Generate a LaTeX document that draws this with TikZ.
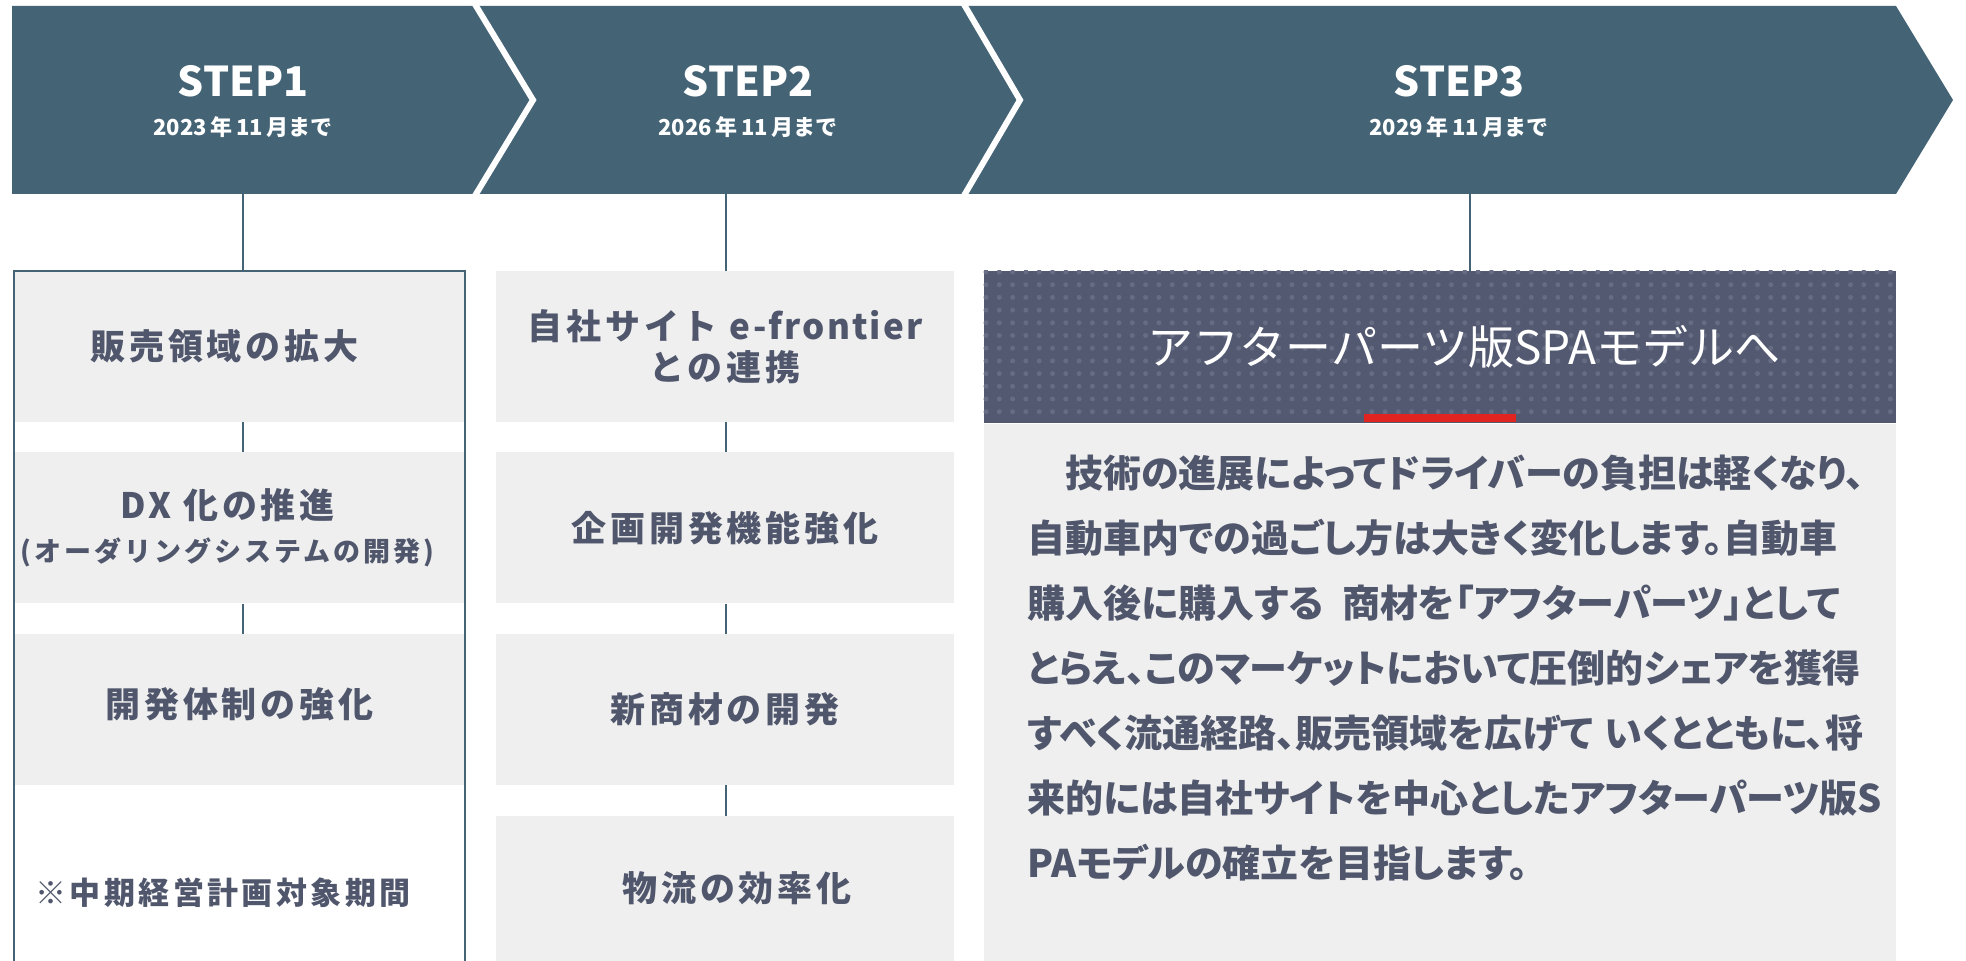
\documentclass[tikz,border=0pt]{standalone}
\usepackage{fontspec}
\newfontfamily\jp{Noto Sans CJK JP}
\newfontfamily\jpp[RawFeature=+palt]{Noto Sans CJK JP}
\newfontfamily\jpls[LetterSpace=11]{Noto Sans CJK JP}
\definecolor{slate}{RGB}{68,99,117}
\definecolor{boxgray}{RGB}{239,239,239}
\definecolor{txtgray}{RGB}{80,86,107}
\definecolor{hdr}{RGB}{83,89,112}
\definecolor{hdrdot}{RGB}{102,108,130}
\definecolor{accent}{RGB}{226,36,33}
\tikzset{
  steplbl/.style={text=white, font=\jp\bfseries\fontsize{20.5}{24}\selectfont, inner sep=0pt},
  datelbl/.style={text=white, font=\jp\bfseries\fontsize{11}{14}\selectfont, inner sep=0pt},
  sep/.style={draw=white, line width=3pt},
  link/.style={draw=slate, line width=1pt},
  pbox/.style={fill=boxgray, text=txtgray, inner sep=0pt, align=center,
    minimum height=75.5pt, font=\jpls\bfseries\fontsize{17.5}{20.5}\selectfont},
  col1/.style={pbox, minimum width=224.5pt},
  col2/.style={pbox, minimum width=229pt}
}
\begin{document}
\begin{tikzpicture}[x=0.5pt,y=-0.5pt]
\useasboundingbox (0,0) rectangle (1966,961);

% banner with the three steps
\fill[slate] (12,6) -- (1896,6) -- (1953,100) -- (1896,194) -- (12,194) -- cycle;
\draw[sep] (473,1) -- (533,100) -- (473,199);
\draw[sep] (962,1) -- (1020,100) -- (962,199);
\node[steplbl] (t1) at (243,81) {STEP1};
\node[datelbl] (d1) at (243,127) {2023\,年\,11\,月まで};
\node[steplbl] (t2) at (748,81) {STEP2};
\node[datelbl] (d2) at (748,127) {2026\,年\,11\,月まで};
\node[steplbl] (t3) at (1459,81) {STEP3};
\node[datelbl] (d3) at (1459,127) {2029\,年\,11\,月まで};
\coordinate (b1) at (243,194);
\coordinate (b2) at (726,194);
\coordinate (b3) at (1470,194);

% step 1
\node[col1] (s1a) at (239.5,346.5) {販売領域の拡大\hspace*{15pt}};
\node[col1] (s1b) at (239.5,528) {DX 化の推進\hspace*{12pt}\\[1pt]{\fontsize{13.5}{16}\selectfont (オーダリングシステムの開発)\hspace*{12pt}}};
\node[col1] (s1c) at (239.5,709.5) {\raisebox{7pt}{開発体制の強化}};
\node[text=txtgray, font=\jpls\bfseries\fontsize{15.5}{18}\selectfont, inner sep=0pt] (n1) at (223,893) {※中期経営計画対象期間};
\draw[slate, line width=1.2pt] (14,970) -- (14,271) -- (465,271) -- (465,970);

% step 2
\node[col2] (s2a) at (725,346.5) {自社サイト {\addfontfeature{LetterSpace=6}e-frontier}\\との連携};
\node[col2] (s2b) at (725,528) {企画開発機能強化};
\node[col2] (s2c) at (725,709.5) {新商材の開発};
\node[col2, minimum height=72.5pt] (s2d) at (725,888.5) {\hspace*{12pt}物流の効率化};

% step 3
\node[fill=hdr, minimum width=456pt, minimum height=76pt, inner sep=0pt] (s3h) at (1440,347) {};
\begin{scope}
\clip (s3h.north west) rectangle (s3h.south east);
\foreach \i in {0,...,69}
  \foreach \j in {0,...,11}
    \fill[hdrdot] (986+13.3*\i,272+12.7*\j) circle[radius=2.5];
\end{scope}
\fill[accent] (1364,414) rectangle (1516,422);
\node[text=white, font=\jp\fontsize{23}{27}\selectfont, inner sep=0pt] (s3title) at (1464,347) {アフターパーツ版SPAモデルへ};
\node[fill=boxgray, minimum width=456pt, minimum height=270pt, inner sep=0pt, anchor=north] (s3b) at (s3h.south) {};
\node[text=txtgray, font=\jpp\bfseries\fontsize{19}{32.5}\selectfont, align=left, inner sep=0pt, anchor=north west] (s3t) at (1027,455) {
　技術の進展によってドライバーの負担は軽くなり、\\
自動車内での過ごし方は大きく変化します。自動車\\
購入後に購入する\hspace{0.5em}商材を「アフターパーツ」として\\
とらえ、このマーケットにおいて圧倒的シェアを獲得\\
すべく流通経路、販売領域を広げて\hspace{0.3em}いくとともに、将\\
来的には自社サイトを中心としたアフターパーツ版S\\
PAモデルの確立を目指します。};

% connectors
\draw[link] (b1) -- (b1 |- s1a.north);
\draw[link] (s1a.south -| b1) -- (s1b.north -| b1);
\draw[link] (s1b.south -| b1) -- (s1c.north -| b1);
\draw[link] (b2) -- (b2 |- s2a.north);
\draw[link] (s2a.south -| b2) -- (s2b.north -| b2);
\draw[link] (s2b.south -| b2) -- (s2c.north -| b2);
\draw[link] (s2c.south -| b2) -- (s2d.north -| b2);
\draw[link] (b3) -- (b3 |- s3h.north);
\end{tikzpicture}
\end{document}
